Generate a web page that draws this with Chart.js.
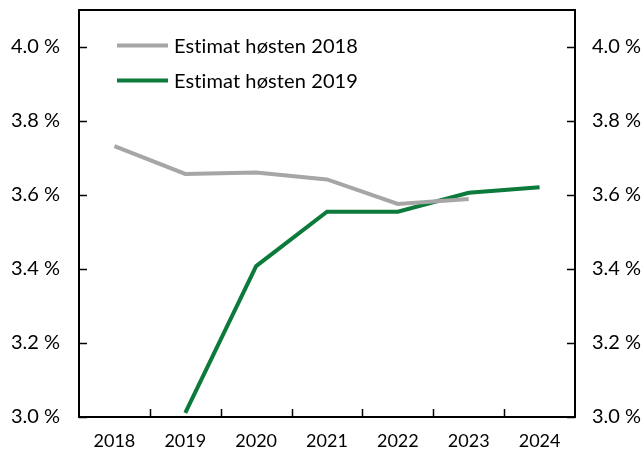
<!DOCTYPE html>
<html>
<head>
<meta charset="utf-8">
<script src="https://cdn.jsdelivr.net/npm/chart.js@4"></script>
<style>
  html, body { margin: 0; padding: 0; background: #fff; }
  #wrap { width: 644px; height: 457px; }
</style>
</head>
<body>
<div id="wrap"><canvas id="c" width="644" height="457"></canvas></div>
<script>
// Years on the horizontal axis
const years = ['2018', '2019', '2020', '2021', '2022', '2023', '2024'];
// Estimate made in autumn 2018 (percent)
const est2018 = [3.732, 3.657, 3.661, 3.642, 3.576, 3.589, null];
// Estimate made in autumn 2019 (percent)
const est2019 = [null, 3.011, 3.408, 3.555, 3.555, 3.606, 3.621];
// Series names
const seriesNames = ['Estimat høsten 2018', 'Estimat høsten 2019'];
// Value axis tick values
const yTicks = [3.0, 3.2, 3.4, 3.6, 3.8, 4.0];

const FONT = 'Lato, "Open Sans", sans-serif';
const fmt = v => v.toFixed(1) + ' %';

// Frame, inward tick marks and the in-plot legend
const framePlugin = {
  id: 'frame',
  afterDatasetsDraw(chart) {
    const { ctx, chartArea: a, scales } = chart;
    ctx.save();
    ctx.strokeStyle = '#000';
    ctx.lineWidth = 2;
    ctx.strokeRect(a.left, a.top, a.right - a.left, a.bottom - a.top);
    ctx.lineWidth = 1.5;
    ctx.beginPath();
    yTicks.forEach(v => {
      const y = Math.round(scales.y.getPixelForValue(v)) + 0.5;
      ctx.moveTo(a.left, y); ctx.lineTo(a.left + 8, y);
      ctx.moveTo(a.right, y); ctx.lineTo(a.right - 8, y);
    });
    const xs = scales.x;
    for (let i = 1; i < years.length; i++) {
      const x = Math.round((xs.getPixelForValue(i - 1) + xs.getPixelForValue(i)) / 2) + 0.5;
      ctx.moveTo(x, a.bottom); ctx.lineTo(x, a.bottom - 8);
    }
    ctx.stroke();

    // legend (tiny letter spacing keeps "ti" from forming a ligature)
    ctx.font = '20px ' + FONT;
    if ('letterSpacing' in ctx) ctx.letterSpacing = '0.1px';
    ctx.textBaseline = 'middle';
    ctx.fillStyle = '#000';
    chart.data.datasets.forEach((ds, i) => {
      const y = 45.5 + i * 35;
      ctx.strokeStyle = ds.borderColor;
      ctx.lineWidth = ds.borderWidth;
      ctx.beginPath();
      ctx.moveTo(117, y); ctx.lineTo(168, y);
      ctx.stroke();
      ctx.fillText(ds.label, 174, y + 1);
    });
    ctx.restore();
  }
};

const yCommon = {
  min: 3.0, max: 4.1,
  afterBuildTicks: s => { s.ticks = yTicks.map(v => ({ value: v })); },
  grid: { display: false, drawTicks: false },
  border: { display: false },
};

new Chart(document.getElementById('c'), {
  type: 'line',
  data: {
    labels: years,
    datasets: [
      { label: seriesNames[0], data: est2018, borderColor: '#a6a6a6', borderWidth: 4,
        pointRadius: 0, tension: 0, spanGaps: false },
      { label: seriesNames[1], data: est2019, borderColor: '#0b7a3b', borderWidth: 4,
        pointRadius: 0, tension: 0, spanGaps: false }
    ]
  },
  options: {
    responsive: false,
    animation: false,
    layout: { padding: { top: 10, left: 0, right: 0, bottom: 0 } },
    plugins: { legend: { display: false }, tooltip: { enabled: false } },
    scales: {
      x: {
        offset: true,
        grid: { display: false, drawTicks: false },
        border: { display: false },
        ticks: { color: '#000', font: { family: FONT, size: 18 }, padding: 13, maxRotation: 0 },
        afterFit: s => { s.height = 40; s.paddingLeft = 0; s.paddingRight = 0; }
      },
      y: Object.assign({}, yCommon, {
        position: 'left',
        ticks: { color: '#000', font: { family: FONT, size: 20 }, padding: 19, callback: v => fmt(v) },
        afterFit: s => { s.width = 79; s.paddingTop = 0; s.paddingBottom = 0; }
      }),
      y2: Object.assign({}, yCommon, {
        position: 'right',
        ticks: { color: '#000', font: { family: FONT, size: 20 }, padding: 17, callback: v => fmt(v) },
        afterFit: s => { s.width = 69; s.paddingTop = 0; s.paddingBottom = 0; }
      })
    }
  },
  plugins: [framePlugin]
});
</script>
</body>
</html>
